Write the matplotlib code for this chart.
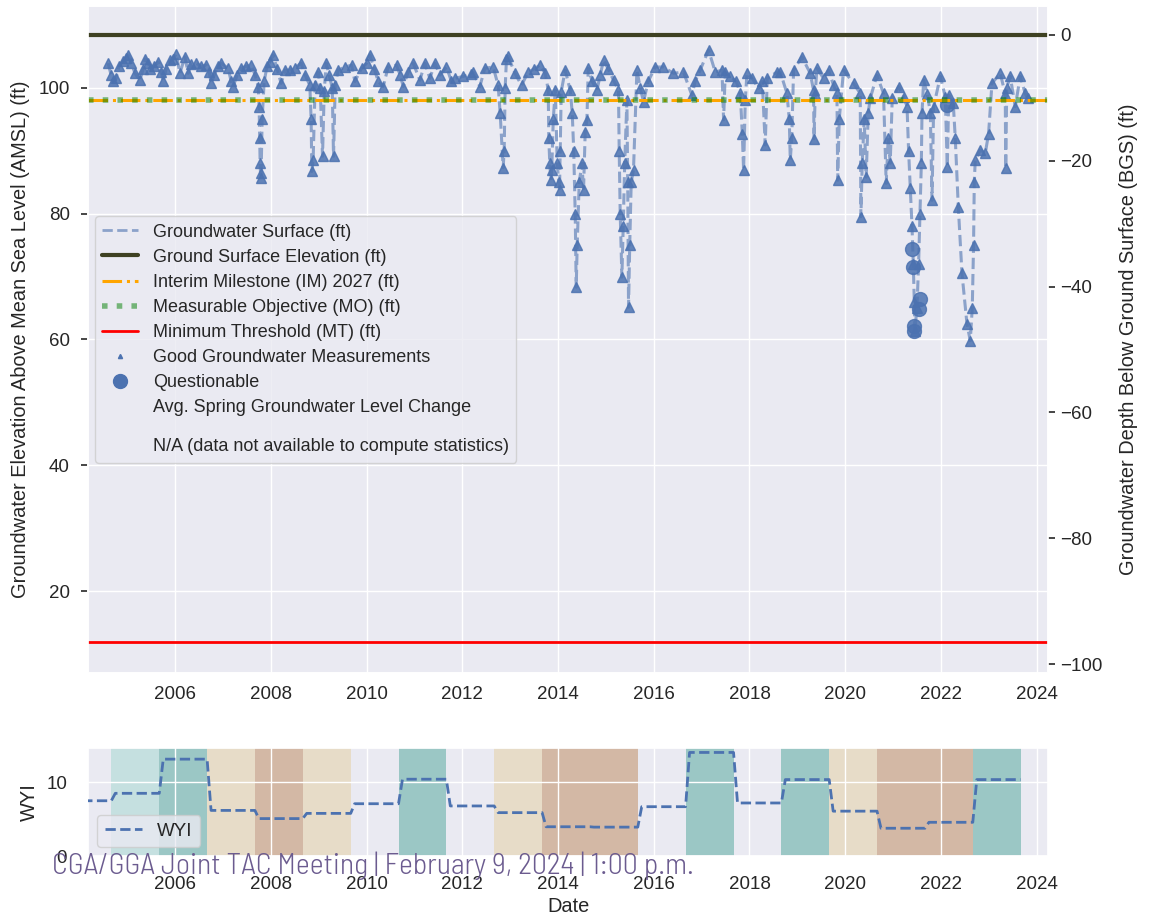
import datetime as dt
import numpy as np
import matplotlib
matplotlib.use("Agg")
import matplotlib.pyplot as plt
import matplotlib.dates as mdates
from matplotlib import font_manager as fm
from matplotlib.lines import Line2D
import seaborn as sns

# ---- data (decimal years, feet AMSL) ----
gw_years = [
    2004.600, 2004.663, 2004.704, 2004.767, 2004.830, 2004.913, 2004.976, 2005.018, 2005.080, 2005.158,
    2005.262, 2005.331, 2005.373, 2005.436, 2005.478, 2005.561, 2005.645, 2005.707, 2005.749, 2005.812,
    2005.896, 2005.958, 2006.021, 2006.098, 2006.203, 2006.272, 2006.334, 2006.439, 2006.543, 2006.648,
    2006.711, 2006.752, 2006.815, 2006.899, 2006.961, 2007.108, 2007.170, 2007.212, 2007.296, 2007.379,
    2007.484, 2007.588, 2007.672, 2007.735, 2007.755, 2007.766, 2007.776, 2007.787, 2007.797, 2007.818,
    2007.860, 2007.923, 2007.979, 2008.048, 2008.132, 2008.215, 2008.299, 2008.403, 2008.508, 2008.633,
    2008.717, 2008.815, 2008.842, 2008.857, 2008.884, 2008.926, 2008.989, 2009.030, 2009.078, 2009.114,
    2009.156, 2009.218, 2009.281, 2009.308, 2009.344, 2009.407, 2009.547, 2009.684, 2009.755, 2009.893,
    2009.998, 2010.069, 2010.159, 2010.243, 2010.347, 2010.451, 2010.625, 2010.702, 2010.765, 2010.869,
    2010.974, 2011.114, 2011.218, 2011.323, 2011.427, 2011.532, 2011.670, 2011.774, 2011.845, 2012.019,
    2012.186, 2012.228, 2012.368, 2012.472, 2012.646, 2012.750, 2012.792, 2012.855, 2012.876, 2012.897,
    2012.924, 2012.959, 2013.099, 2013.237, 2013.377, 2013.503, 2013.622, 2013.733, 2013.795, 2013.806,
    2013.827, 2013.848, 2013.868, 2013.900, 2013.942, 2013.983, 2014.015, 2014.031, 2014.046, 2014.067,
    2014.150, 2014.255, 2014.297, 2014.328, 2014.359, 2014.380, 2014.401, 2014.443, 2014.499, 2014.533,
    2014.568, 2014.604, 2014.631, 2014.715, 2014.813, 2014.882, 2014.951, 2015.049, 2015.160, 2015.264,
    2015.279, 2015.300, 2015.335, 2015.363, 2015.394, 2015.440, 2015.457, 2015.474, 2015.499, 2015.530,
    2015.578, 2015.649, 2015.718, 2015.787, 2015.885, 2016.031, 2016.198, 2016.414, 2016.623, 2016.798,
    2016.867, 2016.972, 2017.145, 2017.285, 2017.425, 2017.459, 2017.494, 2017.599, 2017.724, 2017.808,
    2017.850, 2017.877, 2017.912, 2017.947, 2018.058, 2018.190, 2018.268, 2018.330, 2018.372, 2018.575,
    2018.644, 2018.784, 2018.832, 2018.853, 2018.884, 2018.922, 2019.097, 2019.271, 2019.340, 2019.350,
    2019.375, 2019.411, 2019.549, 2019.653, 2019.758, 2019.829, 2019.845, 2019.877, 2019.967, 2020.176,
    2020.316, 2020.330, 2020.358, 2020.399, 2020.441, 2020.483, 2020.525, 2020.665, 2020.803, 2020.859,
    2020.901, 2020.943, 2020.985, 2021.116, 2021.221, 2021.292, 2021.325, 2021.361, 2021.396, 2021.423,
    2021.444, 2021.455, 2021.500, 2021.534, 2021.563, 2021.591, 2021.605, 2021.639, 2021.716, 2021.779,
    2021.814, 2021.848, 2021.988, 2022.092, 2022.134, 2022.165, 2022.259, 2022.301, 2022.364, 2022.441,
    2022.545, 2022.614, 2022.656, 2022.683, 2022.698, 2022.719, 2022.823, 2022.928, 2022.997, 2023.068,
    2023.241, 2023.346, 2023.356, 2023.377, 2023.450, 2023.555, 2023.659, 2023.763, 2023.811,
]
gw_levels = [
    103.9, 102.0, 101.0, 101.5, 103.5, 104.2, 104.8, 105.2, 104.0, 102.3,
    101.2, 103.0, 104.6, 104.0, 103.0, 103.5, 104.1, 102.5, 101.0, 103.0,
    104.4, 104.6, 105.4, 102.3, 104.9, 102.3, 103.7, 103.9, 103.4, 103.6,
    102.5, 100.7, 102.0, 103.5, 103.9, 103.1, 101.0, 100.2, 102.0, 103.1,
    103.4, 103.6, 102.0, 100.2, 97.0, 92.0, 88.0, 85.7, 86.5, 95.0,
    101.0, 103.5, 104.1, 105.2, 103.0, 100.7, 102.8, 102.8, 103.2, 103.9,
    102.0, 100.4, 95.0, 86.7, 88.5, 100.5, 102.5, 100.0, 89.1, 99.5,
    103.9, 102.0, 100.0, 89.1, 100.5, 102.8, 103.3, 103.6, 101.0, 103.1,
    103.9, 105.2, 103.0, 101.0, 100.2, 103.3, 103.6, 102.0, 100.2, 102.5,
    103.9, 101.2, 103.9, 101.5, 103.9, 102.0, 103.3, 101.0, 101.5, 101.8,
    102.2, 102.5, 100.2, 103.1, 103.3, 100.4, 96.0, 87.3, 90.0, 100.0,
    104.6, 105.0, 102.3, 100.4, 102.5, 103.0, 103.6, 102.3, 99.6, 92.0,
    88.0, 85.3, 87.0, 95.0, 99.6, 88.0, 85.0, 83.7, 90.0, 99.4,
    102.8, 99.6, 96.0, 90.0, 80.0, 68.3, 75.0, 85.0, 88.0, 83.7,
    93.0, 94.9, 103.1, 101.0, 99.6, 102.0, 104.4, 103.0, 101.2, 99.6,
    90.0, 80.0, 69.9, 78.0, 88.0, 98.0, 85.0, 65.1, 75.0, 85.0,
    87.0, 102.8, 100.0, 97.8, 101.0, 103.3, 103.3, 102.3, 102.5, 98.8,
    101.0, 102.8, 106.0, 102.5, 102.8, 94.9, 102.5, 101.8, 101.0, 99.1,
    92.7, 86.9, 98.0, 102.3, 101.5, 99.9, 101.0, 90.9, 101.5, 102.5,
    102.5, 99.1, 95.0, 88.5, 92.0, 102.8, 104.9, 102.3, 99.6, 91.9,
    99.0, 103.1, 101.5, 102.8, 100.4, 99.1, 85.3, 95.0, 102.8, 100.7,
    99.1, 79.5, 88.0, 95.0, 85.8, 96.0, 98.3, 102.0, 99.1, 84.8,
    92.0, 88.0, 98.3, 100.2, 98.6, 97.0, 90.0, 84.0, 78.0, 72.0,
    66.0, 61.4, 65.0, 72.0, 80.0, 88.0, 96.0, 101.2, 99.0, 96.0,
    82.1, 97.0, 101.8, 98.6, 87.4, 98.8, 97.5, 92.0, 81.1, 70.5,
    62.5, 59.8, 65.0, 75.0, 85.0, 88.5, 90.1, 89.6, 92.7, 100.7,
    102.3, 99.0, 87.2, 100.0, 101.8, 97.0, 101.8, 99.1, 98.3,
]
q_years = [2021.396, 2021.423, 2021.563, 2021.534, 2021.444, 2021.448, 2022.130]
q_levels = [74.4, 71.5, 66.5, 64.9, 62.2, 61.3, 97.2]

ground_surface = 108.4
im_2027 = 98.0
mo_level = 98.0
mt_level = 12.0

water_years = [2004, 2005, 2006, 2007, 2008, 2009, 2010, 2011, 2012, 2013,
               2014, 2015, 2016, 2017, 2018, 2019, 2020, 2021, 2022, 2023]
wyi = [7.5, 8.5, 13.1, 6.2, 5.1, 5.8, 7.1, 10.4, 6.8, 5.9,
       4.0, 3.95, 6.7, 14.0, 7.2, 10.35, 6.1, 3.8, 4.6, 10.35]
wy_type = [None, 'AN', 'W', 'BN', 'C', 'BN', None, 'W', None, 'BN',
           'C', 'C', None, 'W', None, 'W', 'BN', 'C', 'C', 'W']
type_colors = {'W': '#9bc7c5', 'AN': '#c5e0e0', 'BN': '#e7dcc8', 'C': '#d3b8a5'}

footer = 'CGA/GGA Joint TAC Meeting | February 9, 2024 | 1:00 p.m.'


def to_date(y):
    yr = int(np.floor(y))
    return dt.datetime(yr, 1, 1) + dt.timedelta(days=(y - yr) * 365.25)


def weight_num(w):
    names = {'light': 300, 'normal': 400, 'regular': 400, 'book': 400, 'medium': 500}
    return w if isinstance(w, int) else names.get(str(w).lower(), 700)


def narrow_font():
    # look for an installed narrow face for the footer: semi-condensed and light first
    wanted = ('condensed', 'semi-condensed', 'extra-condensed', 'ultra-condensed')
    found = []
    for f in fm.fontManager.ttflist:
        name = f.name.lower()
        is_narrow = f.stretch in wanted or 'condensed' in name or 'narrow' in name
        if is_narrow and f.style == 'normal' and 250 <= weight_num(f.weight) <= 400:
            found.append(f)
    if not found:
        return fm.FontProperties(family=['Liberation Sans', 'DejaVu Sans'])

    def rank(f):
        semi = f.stretch == 'semi-condensed' or 'semicondensed' in f.name.lower().replace(' ', '')
        return (0 if semi else 1, abs(weight_num(f.weight) - 320), f.name)
    found.sort(key=rank)
    return fm.FontProperties(fname=found[0].fname)


sns.set_theme(style='darkgrid')
plt.rcParams['font.family'] = ['Liberation Sans', 'DejaVu Sans']

blue = '#4c72b0'
fig = plt.figure(figsize=(11.49, 9.17), dpi=100)
ax = fig.add_axes([0.0766, 0.2661, 0.8355, 0.7274])
axw = fig.add_axes([0.0766, 0.0660, 0.8355, 0.1183])

gw_dates = [to_date(y) for y in gw_years]
q_dates = [to_date(y) for y in q_years]

ax.plot(gw_dates, gw_levels, '--', color=blue, alpha=0.6, lw=2.2, zorder=2)
ax.plot(gw_dates, gw_levels, '^', color=blue, ms=6.5, alpha=0.85, ls='none', zorder=3)
ax.plot(q_dates, q_levels, 'o', color=blue, ms=10, alpha=0.85, ls='none', zorder=3)
ax.axhline(ground_surface, color='#3e4122', lw=3, zorder=5)
ax.axhline(im_2027, color='orange', lw=2.2, ls='-.', zorder=4)
ax.axhline(mo_level, color='green', lw=4, ls=':', alpha=0.5, zorder=4)
ax.axhline(mt_level, color='red', lw=2, zorder=4)

xlim = (to_date(2004.18), to_date(2024.24))
ax.set_xlim(xlim)
ax.set_ylim(7, 113)
ax.xaxis.set_major_locator(mdates.YearLocator(2))
ax.xaxis.set_major_formatter(mdates.DateFormatter('%Y'))
ax.tick_params(axis='both', labelsize=13.5)
ax.tick_params(axis='y', left=True, length=5, width=1.2, color='#262626', pad=8)
ax.set_ylabel('Groundwater Elevation Above Mean Sea Level (AMSL) (ft)', fontsize=14.4, labelpad=6)

ax2 = ax.twinx()
ax2.set_ylim(7 - ground_surface, 113 - ground_surface)
ax2.grid(False)
ax2.set_yticks([0, -20, -40, -60, -80, -100])
ax2.tick_params(axis='y', right=True, length=5, width=1.2, color='#262626', labelsize=13.5)
ax2.set_ylabel('Groundwater Depth Below Ground Surface (BGS) (ft)', fontsize=14.4, labelpad=12)

blank = Line2D([], [], ls='none')
handles = [
    Line2D([], [], color=blue, ls='--', lw=2, alpha=0.6),
    Line2D([], [], color='#3e4122', lw=3),
    Line2D([], [], color='orange', lw=2.2, ls='-.'),
    Line2D([], [], color='green', lw=4, ls=':', alpha=0.5),
    Line2D([], [], color='red', lw=2),
    Line2D([], [], color=blue, marker='^', ms=3, ls='none'),
    Line2D([], [], color=blue, marker='o', ms=10, ls='none'),
    blank, blank,
]
labels = ['Groundwater Surface (ft)', 'Ground Surface Elevation (ft)',
          'Interim Milestone (IM) 2027 (ft)', 'Measurable Objective (MO) (ft)',
          'Minimum Threshold (MT) (ft)', 'Good Groundwater Measurements',
          'Questionable', 'Avg. Spring Groundwater Level Change',
          '\nN/A (data not available to compute statistics)']
leg = ax.legend(handles, labels, loc='center left', fontsize=13,
                bbox_to_anchor=(-0.002, 0.5), labelspacing=0.45)
leg.get_texts()[-1].set_linespacing(0.75)

# ---- WYI panel ----
for wy, t in zip(water_years, wy_type):
    if t is not None:
        axw.axvspan(to_date(wy - 1 + 0.667), to_date(wy + 0.667),
                    color=type_colors[t], lw=0, zorder=0.2)
wy_dates, wy_vals = [], []
for wy, v in zip(water_years, wyi):
    wy_dates += [to_date(wy - 1 + 0.75), to_date(wy + 0.667)]
    wy_vals += [v, v]
axw.plot(wy_dates, wy_vals, '--', color=blue, lw=2, label='WYI', zorder=3)
axw.set_xlim(xlim)
axw.set_ylim(0, 14.6)
axw.set_yticks([0, 10])
axw.xaxis.set_major_locator(mdates.YearLocator(2))
axw.xaxis.set_major_formatter(mdates.DateFormatter('%Y'))
axw.tick_params(axis='both', labelsize=13.5)
axw.tick_params(axis='x', pad=8)
axw.tick_params(axis='y', left=False, pad=9)
axw.set_ylabel('WYI', fontsize=14.4, labelpad=5)
axw.set_xlabel('Date', fontsize=14.4, labelpad=3)
axw.legend(loc='lower left', fontsize=13.5)

# footer, sized toward the width of the slide banner
fp = narrow_font()
fp.set_size(19)
txt = fig.text(0.045, 0.056, footer, fontproperties=fp, color='#6b5b8f',
               va='center', ha='left')
renderer = fig.canvas.get_renderer()
w = txt.get_window_extent(renderer).width
size = min(max(19 * 663.0 / w, 14), 21.5)
fp.set_size(size)
txt.set_fontproperties(fp)

fig.savefig('out.png', dpi=100)
